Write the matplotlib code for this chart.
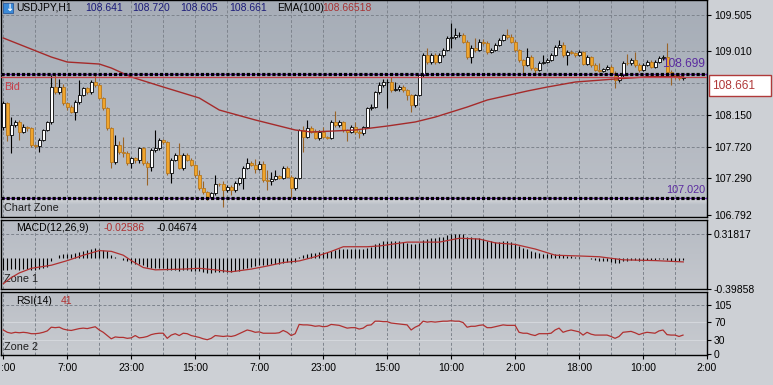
import numpy as np
import matplotlib
matplotlib.use('Agg')
from matplotlib import pyplot as plt
from matplotlib.colors import LinearSegmentedColormap

W, H = 773, 385

# ---- data (USDJPY H1) ----
first_open = 107.986
closes = [
    108.311, 107.877, 108.013, 108.054, 107.918, 107.986, 107.972, 107.742, 107.728, 107.809,
    107.945, 108.054, 108.528, 108.461, 108.528, 108.311, 108.257, 108.189, 108.325, 108.420,
    108.515, 108.461, 108.596, 108.556, 108.379, 108.244, 107.972, 107.511, 107.742, 107.647,
    107.633, 107.497, 107.565, 107.538, 107.701, 107.497, 107.443, 107.674, 107.701, 107.809,
    107.782, 107.362, 107.538, 107.606, 107.430, 107.606, 107.538, 107.470, 107.335, 107.158,
    107.104, 107.036, 107.091, 107.213, 107.210, 107.131, 107.172, 107.131, 107.226, 107.294,
    107.430, 107.497, 107.470, 107.416, 107.484, 107.267, 107.260, 107.280, 107.321, 107.294,
    107.430, 107.308, 107.158, 107.294, 107.945, 107.850, 107.972, 107.918, 107.837, 107.918,
    107.850, 107.837, 108.054, 108.013, 108.054, 107.945, 107.918, 107.986, 107.918, 107.904,
    107.986, 108.244, 108.257, 108.461, 108.556, 108.596, 108.600, 108.488, 108.501, 108.528,
    108.488, 108.420, 108.284, 108.420, 108.691, 108.962, 108.867, 108.962, 108.867, 108.962,
    109.030, 109.193, 109.207, 109.234, 109.238, 109.139, 108.935, 109.057, 109.030, 109.139,
    109.125, 109.003, 109.030, 109.098, 109.166, 109.234, 109.207, 109.139, 109.030, 108.895,
    108.827, 108.935, 108.786, 108.759, 108.854, 108.867, 108.895, 108.962, 109.071, 109.098,
    108.962, 109.003, 108.990, 108.962, 109.003, 108.840, 108.935, 108.827, 108.759, 108.745,
    108.773, 108.800, 108.718, 108.623, 108.691, 108.854, 108.850, 108.895, 108.827, 108.759,
    108.827, 108.867, 108.800, 108.867, 108.922, 108.935, 108.732, 108.691, 108.664, 108.650,
    108.661]
highs = [
    108.34, 108.33, 108.12, 108.08, 108.08, 108.02, 108.00, 107.99, 107.76, 107.83,
    107.96, 108.07, 108.69, 108.69, 108.64, 108.57, 108.33, 108.28, 108.35, 108.62,
    108.53, 108.53, 108.62, 108.70, 108.58, 108.39, 108.26, 107.99, 107.88, 107.80,
    107.85, 107.66, 107.58, 107.58, 107.72, 107.72, 107.52, 107.70, 107.95, 107.83,
    107.82, 107.80, 107.56, 107.63, 107.77, 107.63, 107.63, 107.56, 107.49, 107.40,
    107.26, 107.12, 107.11, 107.33, 107.23, 107.25, 107.20, 107.20, 107.25, 107.31,
    107.45, 107.56, 107.52, 107.55, 107.52, 107.53, 107.40, 107.38, 107.40, 107.33,
    107.45, 107.45, 107.33, 107.31, 107.96, 108.00, 108.08, 108.00, 107.96, 107.94,
    107.98, 107.87, 108.08, 108.20, 108.08, 108.07, 107.96, 108.01, 108.05, 107.94,
    108.00, 108.26, 108.30, 108.48, 108.60, 108.64, 108.64, 108.66, 108.60, 108.55,
    108.55, 108.50, 108.44, 108.44, 108.71, 108.99, 109.06, 108.99, 108.99, 108.99,
    109.06, 109.22, 109.40, 109.33, 109.27, 109.26, 109.16, 109.10, 109.19, 109.18,
    109.18, 109.15, 109.06, 109.12, 109.19, 109.25, 109.32, 109.25, 109.16, 109.05,
    108.91, 109.06, 108.96, 108.80, 108.88, 108.96, 108.92, 108.99, 109.10, 109.17,
    109.14, 109.03, 109.03, 109.00, 109.03, 109.02, 108.96, 108.95, 108.85, 108.85,
    108.79, 108.82, 108.82, 108.74, 108.71, 108.88, 108.98, 108.92, 109.00, 108.85,
    108.85, 108.89, 108.89, 108.89, 108.95, 108.96, 109.12, 108.76, 108.70, 108.72,
    108.68]
lows = [
    107.95, 107.80, 107.63, 107.99, 107.81, 107.90, 107.93, 107.72, 107.70, 107.65,
    107.79, 107.93, 108.03, 108.44, 108.44, 108.29, 108.22, 108.17, 108.08, 108.30,
    108.40, 108.44, 108.44, 108.53, 108.36, 108.22, 107.95, 107.43, 107.49, 107.62,
    107.58, 107.47, 107.43, 107.50, 107.50, 107.47, 107.20, 107.39, 107.65, 107.68,
    107.76, 107.34, 107.23, 107.52, 107.41, 107.40, 107.52, 107.45, 107.31, 107.13,
    107.08, 106.99, 107.02, 107.07, 107.18, 106.90, 107.10, 107.06, 107.11, 107.20,
    107.14, 107.41, 107.45, 107.36, 107.40, 107.24, 107.13, 107.20, 107.27, 107.28,
    107.28, 107.29, 107.02, 107.13, 107.28, 107.65, 107.84, 107.90, 107.82, 107.81,
    107.83, 107.82, 107.82, 107.99, 107.99, 107.92, 107.80, 107.90, 107.89, 107.84,
    107.88, 107.97, 108.22, 108.24, 108.44, 108.53, 108.25, 108.46, 108.47, 108.48,
    108.46, 108.35, 108.19, 108.26, 108.40, 108.67, 108.84, 108.84, 108.84, 108.85,
    108.94, 109.01, 109.06, 109.18, 109.20, 109.12, 108.91, 108.86, 109.00, 109.01,
    109.10, 108.98, 108.99, 109.01, 109.08, 109.15, 109.18, 109.12, 109.00, 108.87,
    108.72, 108.81, 108.76, 108.69, 108.74, 108.84, 108.85, 108.88, 108.95, 109.06,
    108.94, 108.83, 108.97, 108.94, 108.95, 108.82, 108.82, 108.80, 108.74, 108.73,
    108.73, 108.76, 108.70, 108.52, 108.60, 108.67, 108.83, 108.83, 108.80, 108.73,
    108.74, 108.81, 108.78, 108.78, 108.85, 108.90, 108.71, 108.56, 108.64, 108.62,
    108.62]

ema_bars = [0, 12, 16, 24, 27, 32, 40, 49, 54, 63, 68, 73, 77, 88, 96, 103, 108, 116,
            121, 131, 136, 143, 153, 162, 170]
ema_vals = [109.193, 108.935, 108.867, 108.840, 108.786, 108.664, 108.528, 108.379,
            108.216, 108.081, 108.013, 107.945, 107.918, 107.945, 107.999, 108.054,
            108.121, 108.257, 108.352, 108.474, 108.528, 108.596, 108.637, 108.670, 108.665]

macd_hist = [
    -0.15, -0.15, -0.14, -0.14, -0.15, -0.14, -0.14, -0.15, -0.15, -0.14,
    -0.13, -0.11, -0.04, 0.00, 0.04, 0.05, 0.06, 0.06, 0.07, 0.08,
    0.10, 0.11, 0.12, 0.13, 0.12, 0.11, 0.09, 0.04, 0.02, 0.00,
    -0.02, -0.04, -0.06, -0.07, -0.07, -0.09, -0.11, -0.12, -0.13, -0.12,
    -0.13, -0.15, -0.15, -0.15, -0.16, -0.15, -0.15, -0.16, -0.16, -0.17,
    -0.18, -0.19, -0.19, -0.18, -0.18, -0.18, -0.18, -0.18, -0.17, -0.16,
    -0.14, -0.12, -0.11, -0.10, -0.09, -0.09, -0.09, -0.08, -0.08, -0.07,
    -0.06, -0.05, -0.06, -0.05, 0.02, 0.04, 0.06, 0.07, 0.07, 0.08,
    0.08, 0.08, 0.10, 0.11, 0.12, 0.12, 0.12, 0.12, 0.12, 0.12,
    0.12, 0.14, 0.15, 0.18, 0.20, 0.22, 0.23, 0.22, 0.22, 0.22,
    0.21, 0.20, 0.18, 0.18, 0.20, 0.24, 0.25, 0.26, 0.26, 0.27,
    0.28, 0.30, 0.31, 0.32, 0.32, 0.31, 0.28, 0.27, 0.26, 0.26,
    0.25, 0.23, 0.22, 0.21, 0.21, 0.22, 0.22, 0.21, 0.19, 0.16,
    0.13, 0.12, 0.10, 0.08, 0.07, 0.06, 0.05, 0.05, 0.05, 0.05,
    0.04, 0.03, 0.03, 0.02, 0.02, 0.00, 0.00, -0.01, -0.02, -0.03,
    -0.04, -0.04, -0.05, -0.06, -0.06, -0.04, -0.03, -0.02, -0.02, -0.03,
    -0.03, -0.02, -0.02, -0.02, -0.01, -0.01, -0.02, -0.03, -0.03, -0.03,
    -0.026]
signal_bars = [0, 2, 4, 7, 12, 16, 20, 24, 27, 30, 32, 35, 38, 45, 49, 53, 57, 62, 66,
               70, 74, 78, 82, 85, 91, 94, 101, 109, 114, 119, 123, 128, 133, 138,
               144, 149, 152, 155, 163, 170]
signal_vals = [-0.33, -0.25, -0.19, -0.13, -0.09, -0.03, 0.04, 0.10, 0.09, 0.04, -0.03,
               -0.12, -0.15, -0.14, -0.13, -0.15, -0.175, -0.14, -0.10, -0.055, -0.034,
               0.02, 0.09, 0.15, 0.15, 0.16, 0.21, 0.21, 0.26, 0.25, 0.20, 0.18, 0.12,
               0.04, 0.03, 0.02, 0.00, -0.02, -0.03, -0.047]

rsi = [
    52, 47, 45, 47, 46, 47, 46, 44, 44, 45, 47, 50, 58, 57, 58, 54, 52, 51, 53, 55,
    56, 55, 57, 59, 52, 47, 40, 33, 37, 36, 36, 34, 35, 40, 35, 36, 38, 42, 44, 45,
    45, 34, 41, 44, 40, 45, 44, 40, 38, 36, 33, 31, 34, 40, 39, 38, 39, 38, 40, 44,
    48, 52, 50, 47, 48, 45, 45, 45, 45, 46, 51, 47, 40, 44, 64, 63, 63, 62, 60, 61,
    59, 60, 64, 63, 62, 59, 56, 57, 57, 54, 56, 62, 63, 71, 71, 70, 70, 67, 66, 65,
    64, 63, 52, 58, 62, 71, 69, 70, 69, 70, 71, 71, 72, 71, 71, 68, 58, 60, 60, 62,
    63, 57, 57, 59, 61, 63, 62, 62, 62, 47, 45, 45, 42, 40, 44, 44, 44, 45, 52, 56,
    47, 50, 52, 50, 48, 41, 47, 43, 41, 41, 41, 41, 38, 34, 38, 47, 48, 49, 46, 42,
    45, 47, 46, 45, 50, 52, 42, 41, 41, 38, 41]

price_ticks = [109.505, 109.010, 108.150, 107.720, 107.290, 106.792]
price_grid = [109.505, 109.010, 108.580, 108.150, 107.720, 107.290]
time_labels = [':00', '7:00', '23:00', '15:00', '7:00', '23:00', '15:00',
               '10:00', '2:00', '18:00', '10:00', '2:00']

plt.rcParams['font.family'] = ['Liberation Sans', 'DejaVu Sans']
plt.rcParams['font.size'] = 7.5

n = len(closes)
x = np.arange(n)
opens = [first_open] + closes[:-1]
GRID = '#7e848d'

fig = plt.figure(figsize=(W / 100, H / 100), dpi=100)
fig.patch.set_facecolor('#cdd0d5')

def add_panel(y0, y1, c_top, c_bot):
    ax = fig.add_axes([0.5 / W, 1 - y1 / H, 706.5 / W, (y1 - y0) / H])
    cmap = LinearSegmentedColormap.from_list('bg', [c_top, c_bot])
    ax.imshow(np.linspace(0, 1, 64).reshape(-1, 1), cmap=cmap, aspect='auto',
              extent=(0, 1, 0, 1), transform=ax.transAxes, zorder=0)
    ax.set_xlim((0.5 - 3.3) / 4, (707 - 3.3) / 4)
    for s in ax.spines.values():
        s.set_color('black')
        s.set_linewidth(1.0)
    ax.yaxis.tick_right()
    ax.tick_params(axis='y', length=3, width=0.8, pad=2, colors='black')
    ax.tick_params(axis='x', bottom=False, labelbottom=False)
    for b in range(0, n, 8):
        ax.axvline(b, color=GRID, lw=0.7, ls=(0, (3, 2)), zorder=1)
    return ax

def ftext(px, py, s, color='black', **kw):
    fig.text(px / W, 1 - py / H, s, color=color, va='center', ha='left', **kw)

# ---- main price panel ----
ax = add_panel(0, 217, '#a6adb7', '#bdc1c8')
ylo = 109.7085 - 217 * 0.013565
ax.set_ylim(ylo, 109.7085)
for p in price_grid:
    ax.axhline(p, color=GRID, lw=0.7, ls=(0, (3, 2)), zorder=1)
ax.set_yticks(price_ticks)
ax.set_yticklabels(['%.3f' % p for p in price_ticks])

# soft light band under the lower zone line
shade = LinearSegmentedColormap.from_list('sh', [(1, 1, 1, 0.0), (1, 1, 1, 0.45)])
ax.imshow(np.linspace(0, 1, 32).reshape(-1, 1), cmap=shade, aspect='auto',
          extent=(ax.get_xlim()[0], ax.get_xlim()[1], 106.93, 107.02),
          origin='lower', zorder=1)
ax.set_xlim((0.5 - 3.3) / 4, (707 - 3.3) / 4)
ax.set_ylim(ylo, 109.7085)

for i in range(n):
    o, c = opens[i], closes[i]
    bull = c >= o
    wick = 'black' if bull else '#9a6428'
    ax.vlines(x[i], lows[i], highs[i], color=wick, lw=0.8, zorder=3)
    h = max(abs(c - o), 0.003)
    ax.bar(x[i], h, bottom=min(o, c), width=0.72,
           color='white' if bull else '#f0a52c',
           edgecolor='black' if bull else '#b8781e', linewidth=0.6, zorder=4)

ax.plot(ema_bars, ema_vals, color='#a52a2a', lw=1.0, zorder=5)

# bid line and the two zone levels
ax.axhline(108.661, color='#c8404a', lw=0.9, zorder=5)
for lvl in (108.699, 107.020):
    ax.axhline(lvl, color='#6a2ab0', lw=0.9, zorder=5)
    ax.axhline(lvl, color='black', lw=2.3, ls=(0, (1, 0.6)), zorder=6)
xr = ax.get_xlim()[1] - 0.4
ax.text(xr, 108.840, '108.699', color='#5a2aa0', ha='right', va='center',
        fontsize=8.6, zorder=7)
ax.text(xr, 107.129, '107.020', color='#5a2aa0', ha='right', va='center',
        fontsize=7.8, zorder=7)
ax.text(0.3, 108.535, 'Bid', color='#c8404a', fontsize=7.8, va='center')
ax.text(0.3, 106.885, 'Chart Zone', color='#202020', fontsize=7.8, va='center')

# current price label on the right scale
fig.patches.append(plt.Rectangle((709 / W, 1 - 96 / H), 62 / W, 21 / H,
                                 transform=fig.transFigure, fc='white',
                                 ec='#b03a3a', lw=1.0, figure=fig, zorder=5))
fig.text(712 / W, 1 - 86 / H, '108.661', color='#b03a3a', fontsize=8.6,
         va='center', ha='left', zorder=6)

# ---- MACD panel ----
am = add_panel(220, 289, '#b6bbc3', '#c4c7cd')
am.set_ylim(-0.39858, 0.497)
am.axhline(0.31817, color=GRID, lw=0.7, ls=(0, (3, 2)), zorder=1)
am.vlines(x, 0, macd_hist, color='black', lw=0.8, zorder=3)
am.plot(signal_bars, signal_vals, color='#b03030', lw=0.9, zorder=4)
am.set_yticks([0.31817, -0.39858])
am.set_yticklabels(['0.31817', '-0.39858'])
am.text(0.3, -0.27, 'Zone 1', color='#202020', fontsize=7.8, va='center')

# ---- RSI panel ----
ar = add_panel(292, 355, '#bbbfc6', '#c8cbd0')
ar.set_ylim(-2, 134)
ar.axhline(105, color=GRID, lw=0.7, ls=(0, (3, 2)), zorder=1)
for lvl in (70, 30):
    ar.axhline(lvl, color='#d4d7dc', lw=0.8, zorder=1)
ar.plot(x, rsi, color='#b03030', lw=0.9, zorder=4)
ar.set_yticks([105, 70, 30, 0])
ar.set_yticklabels(['105', '70', '30', '0'])
ar.text(0.3, 16, 'Zone 2', color='#202020', fontsize=7.8, va='center')
ar.set_xticks(np.arange(0, 16 * len(time_labels), 16))
ar.set_xticklabels([''] + time_labels[1:])
ar.tick_params(axis='x', bottom=True, labelbottom=True, length=3, width=0.8,
               pad=3, colors='black')
ftext(0.5, 368, time_labels[0])

# ---- header texts ----
fig.patches.append(plt.Rectangle((3 / W, 1 - 13 / H), 10 / W, 10 / H,
                                 transform=fig.transFigure, fc='#3a8ad8',
                                 ec='#2a5a9a', lw=0.6, figure=fig))
ftext(5.2, 7.5, u'\u2193', color='white', fontsize=7, fontweight='bold',
      family='DejaVu Sans')
ftext(16, 8, 'USDJPY,H1')
navy = '#1a1a78'
for px, s in zip([85, 132, 180, 229], ['108.641', '108.720', '108.605', '108.661']):
    ftext(px, 8, s, color=navy)
ftext(277, 8, 'EMA(100)')
ftext(322, 8, '108.66518', color='#a83232')

ftext(16, 228, 'MACD(12,26,9)')
ftext(104, 228, '-0.02586', color='#b03030')
ftext(157, 228, '-0.04674')
ftext(16, 301, 'RSI(14)')
ftext(61, 301, '41', color='#b03030')

fig.savefig('out.png', dpi=100, facecolor=fig.get_facecolor())
